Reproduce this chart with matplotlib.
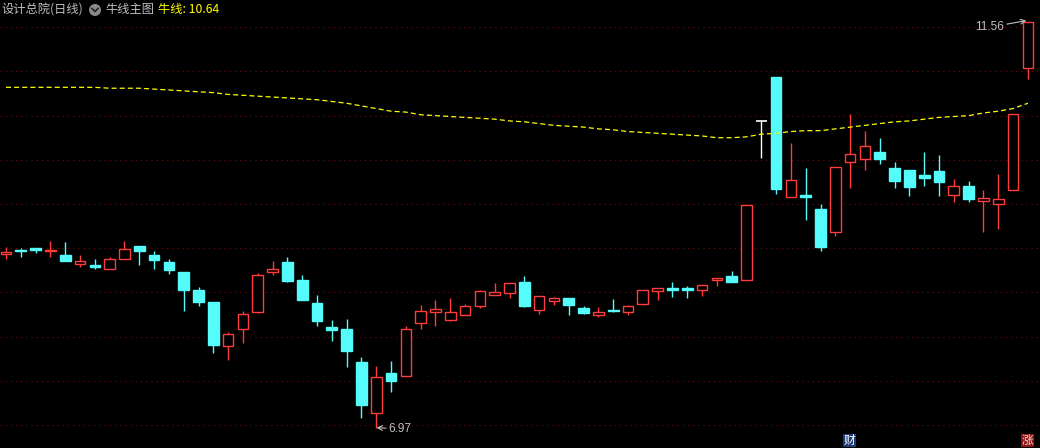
import matplotlib
matplotlib.use('Agg')
import matplotlib.pyplot as plt
from matplotlib.patches import Rectangle, Ellipse
from matplotlib.lines import Line2D

plt.rcParams['font.family'] = ['Noto Sans CJK SC', 'DejaVu Sans']

# daily OHLC
opens = [8.93, 8.98, 9.00, 8.97, 8.92, 8.82, 8.81, 8.77, 8.88, 9.03,
         8.92, 8.84, 8.73, 8.53, 8.39, 7.89, 8.09, 8.28, 8.73, 8.84,
         8.64, 8.38, 8.11, 8.09, 7.71, 7.14, 7.59, 7.55, 8.15, 8.28,
         8.19, 8.24, 8.35, 8.47, 8.49, 8.62, 8.30, 8.40, 8.44, 8.32,
         8.24, 8.30, 8.28, 8.37, 8.52, 8.55, 8.55, 8.53, 8.64, 8.69,
         8.64, 10.44, 10.94, 9.58, 9.60, 9.44, 9.18, 9.98, 10.01, 10.09,
         9.91, 9.88, 9.83, 9.87, 9.60, 9.70, 9.53, 9.50, 9.66, 11.04]
highs = [9.01, 9.00, 9.00, 9.08, 9.07, 8.92, 8.88, 8.90, 9.08, 9.03,
         8.97, 8.88, 8.73, 8.56, 8.39, 8.05, 8.29, 8.72, 8.86, 8.90,
         8.70, 8.47, 8.19, 8.20, 7.77, 7.67, 7.72, 8.12, 8.36, 8.41,
         8.44, 8.37, 8.53, 8.61, 8.61, 8.69, 8.46, 8.45, 8.44, 8.35,
         8.34, 8.43, 8.36, 8.53, 8.55, 8.62, 8.57, 8.58, 8.66, 8.74,
         9.49, 10.44, 10.94, 10.19, 9.91, 9.50, 9.92, 10.52, 10.33, 10.25,
         9.98, 9.88, 10.09, 10.05, 9.78, 9.76, 9.66, 9.84, 10.52, 11.56]
lows = [8.88, 8.90, 8.95, 8.90, 8.86, 8.79, 8.77, 8.77, 8.88, 8.81,
        8.77, 8.71, 8.29, 8.35, 7.81, 7.74, 7.93, 8.27, 8.70, 8.62,
        8.41, 8.12, 7.95, 7.66, 7.08, 6.97, 7.37, 7.55, 8.09, 8.12,
        8.18, 8.24, 8.32, 8.47, 8.44, 8.33, 8.26, 8.36, 8.24, 8.26,
        8.22, 8.28, 8.24, 8.36, 8.41, 8.45, 8.44, 8.46, 8.57, 8.62,
        8.64, 10.02, 9.61, 9.58, 9.32, 8.97, 9.14, 9.68, 9.88, 9.95,
        9.68, 9.59, 9.70, 9.59, 9.52, 9.52, 9.18, 9.22, 9.66, 10.91]
closes = [8.96, 8.97, 8.98, 8.98, 8.86, 8.86, 8.79, 8.88, 8.99, 8.97,
          8.87, 8.75, 8.53, 8.39, 7.90, 8.03, 8.26, 8.70, 8.77, 8.63,
          8.41, 8.18, 8.07, 7.84, 7.23, 7.54, 7.50, 8.09, 8.29, 8.31,
          8.28, 8.35, 8.52, 8.50, 8.61, 8.35, 8.46, 8.44, 8.36, 8.27,
          8.28, 8.29, 8.35, 8.53, 8.55, 8.53, 8.53, 8.58, 8.66, 8.62,
          9.49, 10.44, 9.67, 9.77, 9.58, 9.01, 9.92, 10.07, 10.16, 10.01,
          9.76, 9.69, 9.79, 9.75, 9.70, 9.56, 9.57, 9.56, 10.52, 11.56]

# 牛线 (yellow dashed average line)
niu_line = [10.82, 10.82, 10.82, 10.82, 10.82, 10.82, 10.82, 10.81, 10.81, 10.81,
            10.80, 10.79, 10.78, 10.77, 10.76, 10.74, 10.73, 10.72, 10.71, 10.70,
            10.69, 10.68, 10.66, 10.64, 10.61, 10.58, 10.55, 10.54, 10.51, 10.50,
            10.49, 10.48, 10.47, 10.46, 10.44, 10.43, 10.41, 10.39, 10.38, 10.37,
            10.35, 10.34, 10.32, 10.31, 10.30, 10.29, 10.28, 10.27, 10.25, 10.25,
            10.26, 10.29, 10.30, 10.32, 10.33, 10.33, 10.35, 10.37, 10.39, 10.41,
            10.43, 10.44, 10.46, 10.48, 10.49, 10.50, 10.53, 10.55, 10.58, 10.64]

grid_levels = [7.0, 7.5, 8.0, 8.5, 9.0, 9.5, 10.0, 10.5, 11.0, 11.5]

stock_title = '设计总院(日线)'
main_title = '牛线主图'
niu_label = '牛线: 10.64'

RED = '#ff3c3c'
CYAN = '#54fcfc'
GRAY = '#c0c0c0'

W, H = 1040, 448
fig = plt.figure(figsize=(W / 100, H / 100), dpi=100, facecolor='black')
ax = fig.add_axes([0, 0, 1, 1])
ax.set_facecolor('black')
ax.set_xlim(-0.405, 69.82)
ax.set_ylim(6.740, 11.808)
ax.axis('off')

# dotted price grid
for lv in grid_levels:
    ax.axhline(lv, color='#8c0000', lw=0.75, ls=(0, (1, 4)), zorder=0)

bw = 0.72
for i in range(len(opens)):
    o, h, l, c = opens[i], highs[i], lows[i], closes[i]
    lo, hi = min(o, c), max(o, c)
    if c > o:
        ax.vlines(i, hi, h, color=RED, lw=1.0, zorder=2)
        ax.vlines(i, l, lo, color=RED, lw=1.0, zorder=2)
        ax.add_patch(Rectangle((i - bw / 2, lo), bw, hi - lo, fc='black',
                               ec=RED, lw=1.0, zorder=3))
    elif c < o:
        ax.vlines(i, l, h, color=CYAN, lw=1.0, zorder=2)
        ax.add_patch(Rectangle((i - bw / 2, lo), bw, hi - lo, fc=CYAN,
                               ec=CYAN, lw=1.0, zorder=3))
    else:
        ax.vlines(i, l, h, color='white', lw=1.0, zorder=2)
        ax.hlines(o, i - bw / 2, i + bw / 2, color='white', lw=1.2, zorder=3)

ax.plot(range(len(niu_line)), niu_line, color='#ffff00', lw=0.9,
        ls=(0, (4, 2.5)), zorder=4)

# high / low markers
ihi = highs.index(max(highs))
ilo = lows.index(min(lows))
ax.annotate(f'{max(highs):.2f}', xy=(ihi - 0.1, max(highs) + 0.015),
            xytext=(ihi - 1.6, max(highs) - 0.06), ha='right', va='center',
            color=GRAY, fontsize=8.5, family=['Liberation Sans', 'DejaVu Sans'],
            arrowprops=dict(arrowstyle='->', color=GRAY, lw=0.8,
                            shrinkA=0, shrinkB=0))
ax.annotate(f'{min(lows):.2f}', xy=(ilo + 0.02, min(lows)),
            xytext=(ilo + 0.85, min(lows) - 0.015), ha='left', va='center',
            color=GRAY, fontsize=8.5, family=['Liberation Sans', 'DejaVu Sans'],
            arrowprops=dict(arrowstyle='->', color=GRAY, lw=0.8,
                            shrinkA=0, shrinkB=0))


def fx(x):
    return x / W


def fy(y):
    return 1 - y / H


# header line
fig.text(fx(1), fy(10), stock_title, color=GRAY, fontsize=8.8, va='center', ha='left')
fig.patches.append(Ellipse((fx(95), fy(10)), 12 / W, 12 / H, transform=fig.transFigure,
                           fc='#8a8a8a', ec='none'))
fig.lines.append(Line2D([fx(92), fx(95), fx(98)], [fy(8.5), fy(11.5), fy(8.5)],
                        transform=fig.transFigure, color='#2a2a2a', lw=1.3))
fig.text(fx(105), fy(10), main_title, color=GRAY, fontsize=8.8, va='center', ha='left')
fig.text(fx(158), fy(10), niu_label, color='#ffff00', fontsize=8.8, va='center', ha='left')

# bottom tags
for x0, bg, fgc, ch in [(843, '#1a3c78', 'white', '财'), (1021, '#8c1414', '#ffd0d0', '涨')]:
    fig.patches.append(Rectangle((fx(x0), fy(447)), 13 / W, 13 / H,
                                 transform=fig.transFigure, fc=bg, ec='none'))
    fig.text(fx(x0 + 6.5), fy(440.5), ch, color=fgc, fontsize=8.5,
             ha='center', va='center')

fig.savefig('out.png', dpi=100, facecolor='black')
